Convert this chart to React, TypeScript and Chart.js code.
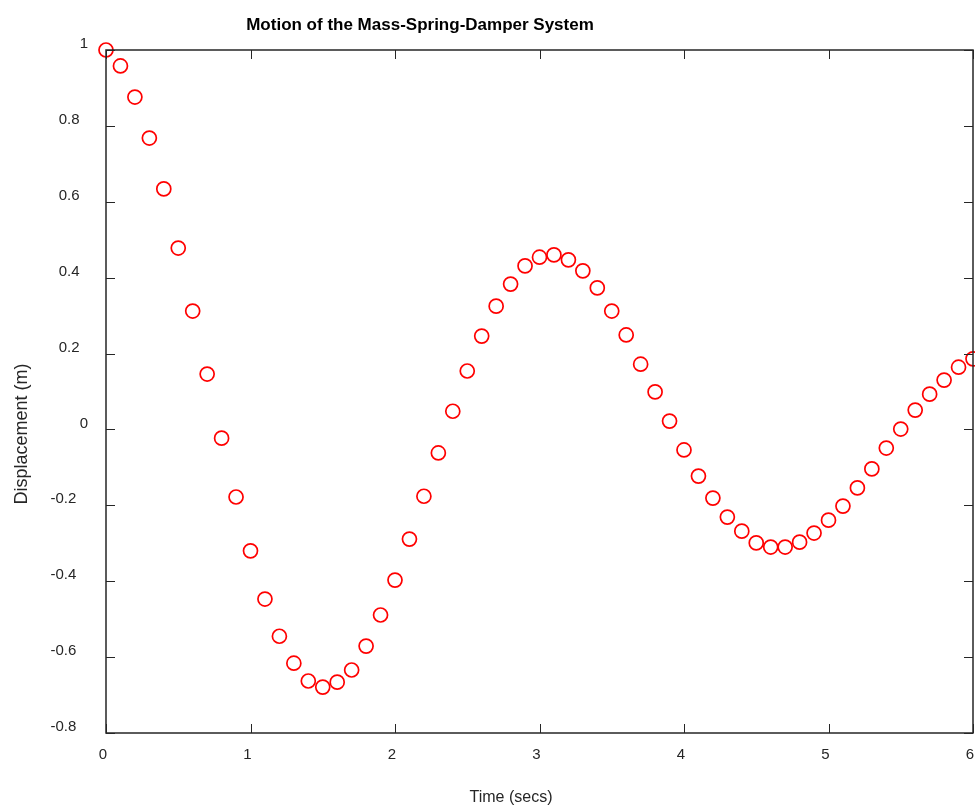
import { useEffect, useRef } from "react";
import { Chart, registerables } from "chart.js";

Chart.register(...registerables);

const timeSecs = [
  0, 0.1, 0.2, 0.3, 0.4, 0.5, 0.6, 0.7, 0.8, 0.9,
  1.0, 1.1, 1.2, 1.3, 1.4, 1.5, 1.6, 1.7, 1.8, 1.9,
  2.0, 2.1, 2.2, 2.3, 2.4, 2.5, 2.6, 2.7, 2.8, 2.9,
  3.0, 3.1, 3.2, 3.3, 3.4, 3.5, 3.6, 3.7, 3.8, 3.9,
  4.0, 4.1, 4.2, 4.3, 4.4, 4.5, 4.6, 4.7, 4.8, 4.9,
  5.0, 5.1, 5.2, 5.3, 5.4, 5.5, 5.6, 5.7, 5.8, 5.9,
  6.0,
];

const displacement = [
  1.0, 0.958, 0.876, 0.768, 0.634, 0.478, 0.312, 0.146, -0.023, -0.178,
  -0.32, -0.447, -0.545, -0.616, -0.663, -0.679, -0.666, -0.634, -0.571, -0.489,
  -0.397, -0.289, -0.176, -0.062, 0.048, 0.154, 0.246, 0.325, 0.383, 0.431,
  0.454, 0.46, 0.447, 0.418, 0.373, 0.312, 0.249, 0.172, 0.099, 0.022,
  -0.054, -0.123, -0.181, -0.231, -0.268, -0.299, -0.31, -0.31, -0.297, -0.273,
  -0.239, -0.202, -0.154, -0.104, -0.049, 0.001, 0.051, 0.093, 0.13, 0.164,
  0.186,
];

const xTicks = [0, 1, 2, 3, 4, 5, 6];
const yTicks = [-0.8, -0.6, -0.4, -0.2, 0, 0.2, 0.4, 0.6, 0.8, 1];

const titleText = "Motion of the Mass-Spring-Damper System";
const xLabelText = "Time (secs)";
const yLabelText = "Displacement (m)";

const FONT = '"Liberation Sans", Arial, Helvetica, sans-serif';
const AXIS_COLOR = "#262626";

const decorPlugin = {
  id: "octaveDecor",
  afterDraw(chart: any) {
    const ctx = chart.ctx as CanvasRenderingContext2D;
    const { left, right, top, bottom } = chart.chartArea;
    const xs = chart.scales.x;
    const ys = chart.scales.y;
    ctx.save();
    // box
    ctx.strokeStyle = AXIS_COLOR;
    ctx.lineWidth = 1.5;
    ctx.strokeRect(left, top, right - left, bottom - top);
    // ticks inward
    ctx.lineWidth = 1;
    const tl = 9;
    ctx.beginPath();
    for (const v of xTicks) {
      const px = Math.round(xs.getPixelForValue(v)) + 0.5;
      ctx.moveTo(px, bottom);
      ctx.lineTo(px, bottom - tl);
      ctx.moveTo(px, top);
      ctx.lineTo(px, top + tl);
    }
    for (const v of yTicks) {
      const py = Math.round(ys.getPixelForValue(v)) + 0.5;
      ctx.moveTo(left, py);
      ctx.lineTo(left + tl, py);
      ctx.moveTo(right, py);
      ctx.lineTo(right - tl, py);
    }
    ctx.stroke();
    // y tick labels
    ctx.fillStyle = AXIS_COLOR;
    ctx.font = `15px ${FONT}`;
    ctx.textAlign = "left";
    ctx.textBaseline = "middle";
    for (const v of yTicks) {
      const label = String(v);
      const w = ctx.measureText(label).width;
      const py = ys.getPixelForValue(v) - 6;
      ctx.fillText(label, 93.6 - 1.67 * w, py);
    }
    // title
    ctx.fillStyle = "#000";
    ctx.font = `bold 17px ${FONT}`;
    ctx.textAlign = "center";
    ctx.textBaseline = "alphabetic";
    ctx.fillText(titleText, 420, 30);
    // x label
    ctx.fillStyle = AXIS_COLOR;
    ctx.font = `16px ${FONT}`;
    ctx.fillText(xLabelText, 511, 801.5);
    // y label
    ctx.translate(27, 434);
    ctx.rotate(-Math.PI / 2);
    ctx.font = `18px ${FONT}`;
    ctx.fillText(yLabelText, 0, 0);
    ctx.restore();
  },
};

export default function App() {
  const ref = useRef<HTMLCanvasElement | null>(null);
  useEffect(() => {
    if (!ref.current) return;
    const chart = new Chart(ref.current, {
      type: "scatter",
      data: {
        datasets: [
          {
            label: "displacement",
            data: timeSecs.map((t, i) => ({ x: t, y: displacement[i] })),
            pointStyle: "circle",
            pointRadius: 7,
            pointHoverRadius: 7,
            borderWidth: 1.7,
            borderColor: "#ff0000",
            backgroundColor: "rgba(0,0,0,0)",
            showLine: false,
            clip: false as any,
          },
        ],
      },
      options: {
        responsive: false,
        animation: false,
        events: [],
        layout: { autoPadding: false, padding: { left: 0, top: 50, right: 2, bottom: 0 } },
        plugins: {
          legend: { display: false },
          title: { display: false },
          tooltip: { enabled: false },
        },
        scales: {
          x: {
            type: "linear",
            min: 0,
            max: 6,
            offset: false,
            afterBuildTicks: (s: any) => {
              s.ticks = xTicks.map((v) => ({ value: v }));
            },
            afterFit: (s: any) => {
              s.height = 73;
              s.paddingLeft = 0;
              s.paddingRight = 0;
            },
            grid: { display: false, drawTicks: false },
            border: { display: false },
            ticks: {
              padding: 13,
              labelOffset: -3,
              maxRotation: 0,
              autoSkip: false,
              color: AXIS_COLOR,
              font: { family: FONT, size: 15 },
              callback: (v: any) => String(v),
            },
          },
          y: {
            type: "linear",
            min: -0.8,
            max: 1,
            afterBuildTicks: (s: any) => {
              s.ticks = yTicks.map((v) => ({ value: v }));
            },
            afterFit: (s: any) => {
              s.width = 106;
              s.paddingTop = 0;
              s.paddingBottom = 0;
            },
            grid: { display: false, drawTicks: false },
            border: { display: false },
            ticks: { display: false },
          },
        },
      },
      plugins: [decorPlugin],
    });
    return () => chart.destroy();
  }, []);
  return (
    <div style={{ position: "fixed", left: 0, top: 0, width: 975, height: 806, background: "#fff" }}>
      <canvas ref={ref} width={975} height={806} style={{ display: "block" }} />
    </div>
  );
}
